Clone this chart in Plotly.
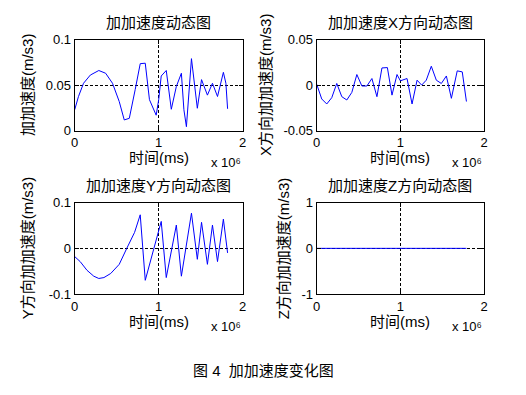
import plotly.graph_objects as go

# ---- data (time in ms, jerk in m/s3) ----
t_mag = [0, 0.045e6, 0.105e6, 0.186e6, 0.287e6, 0.368e6, 0.45e6, 0.53e6, 0.59e6, 0.65e6,
         0.72e6, 0.78e6, 0.84e6, 0.89e6, 0.97e6, 1.0e6, 1.03e6, 1.09e6, 1.15e6, 1.21e6,
         1.27e6, 1.30e6, 1.33e6, 1.39e6, 1.46e6, 1.51e6, 1.58e6, 1.64e6, 1.70e6, 1.77e6,
         1.80e6, 1.82e6]
j_mag = [0.023, 0.0375, 0.052, 0.061, 0.066, 0.063, 0.052, 0.032, 0.0118, 0.0136,
         0.045, 0.0735, 0.074, 0.034, 0.017, 0.034, 0.060, 0.066, 0.0235, 0.0485,
         0.063, 0.023, 0.0044, 0.079, 0.0246, 0.056, 0.039, 0.052, 0.0375, 0.064,
         0.052, 0.024]

t_x = [0, 0.06e6, 0.12e6, 0.18e6, 0.24e6, 0.30e6, 0.36e6, 0.42e6, 0.48e6, 0.54e6,
       0.60e6, 0.66e6, 0.72e6, 0.78e6, 0.845e6, 0.90e6, 0.96e6, 1.0e6, 1.08e6, 1.14e6,
       1.20e6, 1.255e6, 1.31e6, 1.37e6, 1.43e6, 1.49e6, 1.55e6, 1.61e6, 1.68e6, 1.74e6,
       1.79e6]
j_x = [0.001, -0.0152, -0.0207, -0.0138, 0.0018, -0.0127, -0.0163, -0.008, 0.0116, -0.001,
       -0.001, 0.0072, -0.0127, 0.0188, 0.0192, -0.011, 0.0116, 0.0047, 0.0072, -0.0207,
       0.0054, 0.0, 0.0054, 0.0207, 0.0054, 0.0018, 0.010, -0.0145, 0.0156, 0.0145,
       -0.018]

t_y = [0, 0.065e6, 0.146e6, 0.227e6, 0.287e6, 0.348e6, 0.429e6, 0.53e6, 0.62e6, 0.713e6,
       0.78e6, 0.84e6, 1.03e6, 1.09e6, 1.21e6, 1.27e6, 1.39e6, 1.46e6, 1.51e6, 1.58e6,
       1.64e6, 1.70e6, 1.77e6, 1.82e6]
j_y = [-0.018, -0.029, -0.048, -0.061, -0.066, -0.064, -0.055, -0.035, 0.0, 0.035,
       0.0735, -0.070, 0.059, -0.064, 0.051, -0.061, 0.077, -0.024, 0.057, -0.035,
       0.051, -0.029, 0.064, -0.010]

t_z = [0, 1.79e6]
j_z = [0, 0]

titles = ["加加速度动态图", "加加速度X方向动态图", "加加速度Y方向动态图", "加加速度Z方向动态图"]
ytitles = ["加加速度(m/s3)", "X方向加加速度(m/s3)", "Y方向加加速度(m/s3)", "Z方向加加速度(m/s3)"]
xtitle = "时间(ms)"
x_multiplier = "x 10⁶"
caption = "图 4  加加速度变化图"
x_ticks = [0, 1e6, 2e6]
x_ticklabels = ["0", "1", "2"]
y_ticks = [[0, 0.05, 0.1], [-0.05, 0, 0.05], [-0.1, 0, 0.1], [-1, 0, 1]]
y_ticklabels = [["0", "0.05", "0.1"], ["-0.05", "0", "0.05"], ["-0.1", "0", "0.1"], ["-1", "0", "1"]]
y_ranges = [[0, 0.1], [-0.05, 0.05], [-0.1, 0.1], [-1, 1]]

W, H = 526, 395
FONT = "Liberation Sans, Arial, Noto Sans CJK SC, sans-serif"

# axis boxes in pixels (left, right, top, bottom)
boxes = [(74.7, 242.7, 39.5, 130.7), (316.7, 484.0, 39.5, 130.7),
         (74.7, 242.7, 202.7, 294.0), (316.7, 484.0, 202.7, 294.0)]
ytitle_x = [27, 265, 27, 283]

series = [(t_mag, j_mag), (t_x, j_x), (t_y, j_y), (t_z, j_z)]

fig = go.Figure()
layout = dict(width=W, height=H, margin=dict(l=0, r=0, t=0, b=0),
              paper_bgcolor="white", plot_bgcolor="white", showlegend=False,
              font=dict(family=FONT, size=13, color="black"))
annotations = []
for i, ((l, r, t, b), (xs, ys)) in enumerate(zip(boxes, series)):
    n = "" if i == 0 else str(i + 1)
    fig.add_trace(go.Scatter(x=xs, y=ys, mode="lines", line=dict(color="#0000ff", width=1),
                             xaxis="x" + n, yaxis="y" + n, hoverinfo="skip"))
    common = dict(showline=True, linecolor="black", linewidth=1, mirror="ticks",
                  ticks="inside", ticklen=4, tickcolor="black", showgrid=True,
                  gridcolor="black", griddash="3px,2px", gridwidth=1, zeroline=False,
                  automargin=False,
                  tickfont=dict(family=FONT, size=13, color="black"))
    layout["xaxis" + n] = dict(domain=[l / W, r / W], anchor="y" + n, range=[0, 2e6],
                               tickmode="array", tickvals=x_ticks, ticktext=x_ticklabels, **common)
    layout["yaxis" + n] = dict(domain=[1 - b / H, 1 - t / H], anchor="x" + n, range=y_ranges[i],
                               tickmode="array", tickvals=y_ticks[i], ticktext=y_ticklabels[i], **common)
    cx = (l + r) / 2
    annotations.append(dict(text=titles[i], x=cx / W, y=1 - (t - 17) / H, xref="paper", yref="paper",
                            showarrow=False, font=dict(size=15, family=FONT), xanchor="center", yanchor="middle"))
    annotations.append(dict(text=xtitle, x=cx / W, y=1 - (b + 27) / H, xref="paper", yref="paper",
                            showarrow=False, font=dict(size=15, family=FONT), xanchor="center", yanchor="middle"))
    annotations.append(dict(text=x_multiplier, x=(r - 17) / W, y=1 - (b + 32) / H, xref="paper", yref="paper",
                            showarrow=False, font=dict(size=13, family=FONT), xanchor="center", yanchor="middle"))
    annotations.append(dict(text=ytitles[i], x=ytitle_x[i] / W, y=1 - ((t + b) / 2) / H, xref="paper", yref="paper",
                            showarrow=False, textangle=-90, font=dict(size=15, family=FONT),
                            xanchor="center", yanchor="middle"))

annotations.append(dict(text=caption, x=263 / W, y=1 - 370 / H, xref="paper", yref="paper",
                        showarrow=False, font=dict(size=15, family=FONT), xanchor="center", yanchor="middle"))
layout["annotations"] = annotations
fig.update_layout(**layout)
fig.write_html("out.html", config={"displayModeBar": False},
               post_script="document.body.style.margin='0';document.body.style.overflow='hidden';")
